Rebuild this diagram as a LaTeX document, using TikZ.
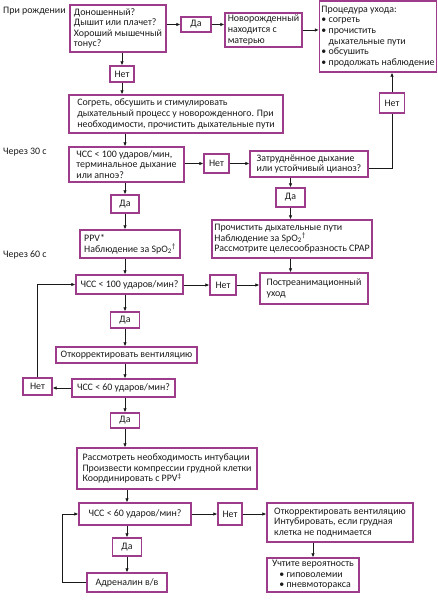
\documentclass[tikz,border=0pt]{standalone}
\usepackage{fontspec}
\setmainfont{Carlito}
\usepackage{tikz}
\usetikzlibrary{arrows.meta,positioning,calc}
\definecolor{plum}{HTML}{9E3C8C}
\definecolor{ink}{HTML}{1A1A1A}

\begin{document}
\begin{tikzpicture}[x=1pt,y=-1pt,
  box/.style={draw=plum,line width=1.4pt,fill=white,text=ink,align=left,inner sep=2pt,font=\fontsize{9.9}{10.6}\selectfont},
  tag/.style={box,align=center,inner sep=1pt},
  note/.style={text=ink,font=\fontsize{9.9}{10.6}\selectfont,inner sep=0pt},
  flow/.style={-{Latex[length=4pt,width=3.6pt]},line width=0.9pt,draw=ink},
  wire/.style={line width=0.9pt,draw=ink}]
\useasboundingbox (0,0) rectangle (438,604);

% time marks
\node[note,anchor=west] (tbirth) at (3,11) {При рождении};
\node[note,anchor=west] (t30) at (3,152) {Через 30 с};
\node[note,anchor=west] (t60) at (3,255) {Через 60 с};

% top row
\node[box,minimum width=96,minimum height=47] (born) at (118,28.5) {Доношенный?\\Дышит или плачет?\\Хороший мышечный\\тонус?};
\node[tag,minimum width=30,minimum height=15] (yes1) at (196,24.5) {Да};
\node[box,minimum width=77,minimum height=34] (mom) at (263.5,30) {Новорожденный\\находится с\\матерью};
\node[box,minimum width=117,minimum height=71] (care) at (378,36.5) {Процедура ухода:\\• согреть\\• прочистить\\\hphantom{• }дыхательные пути\\• обсушить\\• продолжать наблюдение};
\node[tag,minimum width=24,minimum height=16] (no1) at (122,74) {Нет};

% first 30 s
\node[box,minimum width=214,minimum height=38] (warm) at (176,114) {Согреть, обсушить и стимулировать\\дыхательный процесс у новорожденного. При\\необходимости, прочистить дыхательные пути};
\node[tag,minimum width=25,minimum height=20] (no2) at (392,103) {Нет};
\node[box,minimum width=115,minimum height=35] (hr1) at (126.5,164.5) {ЧСС < 100 ударов/мин,\\терминальное дыхание\\или апноэ?};
\node[tag,minimum width=25,minimum height=19] (no3) at (216.5,163.5) {Нет};
\node[box,minimum width=118,minimum height=26] (hard) at (309,164) {Затруднённое дыхание\\или устойчивый цианоз?};
\node[tag,minimum width=28,minimum height=18] (yes2) at (125,204) {Да};
\node[tag,minimum width=29,minimum height=19] (yes3) at (290.5,197.5) {Да};

% 60 s
\node[box,minimum width=100,minimum height=28] (ppv) at (130,244) {PPV*\\Наблюдение за SpO\textsubscript{2}\textsuperscript{\dag}};
\node[box,minimum width=160,minimum height=38] (clear) at (292,239) {Прочистить дыхательные пути\\Наблюдение за SpO\textsubscript{2}\textsuperscript{\dag}\\Рассмотрите целесообразность CPAP};
\node[box,minimum width=107,minimum height=19] (hr2) at (129.5,284.5) {ЧСС < 100 ударов/мин?};
\node[tag,minimum width=26,minimum height=20] (no4) at (223,285) {Нет};
\node[box,minimum width=108,minimum height=31] (post) at (314,288.5) {Постреанимационный\\уход};
\node[tag,minimum width=29,minimum height=16] (yes4) at (125,320) {Да};
\node[box,minimum width=141,minimum height=16] (vent) at (126.5,355) {Откорректировать вентиляцию};
\node[box,minimum width=103,minimum height=18] (hr3) at (123.5,388) {ЧСС < 60 ударов/мин?};
\node[tag,minimum width=29,minimum height=17] (no5) at (37.5,386.5) {Нет};
\node[tag,minimum width=29,minimum height=15] (yes5) at (125,420.5) {Да};

% compressions
\node[box,minimum width=180,minimum height=41] (intub) at (167,468.5) {Рассмотреть необходимость интубации\\Произвести компрессии грудной клетки\\Координировать с PPV\textsuperscript{\ddag}};
\node[box,minimum width=112,minimum height=22] (hr4) at (135,514) {ЧСС < 60 ударов/мин?};
\node[tag,minimum width=24,minimum height=22] (no6) at (230,514) {Нет};
\node[box,minimum width=146,minimum height=39] (fix) at (340,522.5) {Откорректировать вентиляцию\\Интубировать, если грудная\\клетка не поднимается};
\node[tag,minimum width=29,minimum height=18] (yes6) at (127,547) {Да};
\node[box,minimum width=80,minimum height=19] (adr) at (127,582.5) {Адреналин в/в};
\node[box,minimum width=92,minimum height=34] (think) at (313,575) {Учтите вероятность\\\hphantom{•} • гиповолемии\\\hphantom{•} • пневмоторакса};
\coordinate (back) at (62,583);

% arrows
\draw[flow] (born.east |- yes1.west) -- (yes1.west);
\draw[flow] (yes1.east) -- (yes1.east -| mom.west);
\draw[flow] (mom.east) -- (mom.east -| care.west);
\draw[flow] (born.south -| no1) -- (no1.north);
\draw[flow] (no1.south) -- (no1.south |- warm.north);
\draw[flow] (warm.south -| yes2) -- (yes2 |- hr1.north);
\draw[flow] (hr1.east |- no3.west) -- (no3.west);
\draw[flow] (no3.east) -- (no3.east -| hard.west);
\draw[wire] ([yshift=-4pt]hard.east) -| (no2.south);
\draw[flow] (no2.north) -- (no2.north |- care.south);
\draw[flow] (hard.south -| yes3) -- (yes3.north);
\draw[flow] (yes3.south) -- (yes3.south |- clear.north);
\draw[flow] (hr1.south -| yes2) -- (yes2.north);
\draw[flow] (yes2.south) -- (yes2.south |- ppv.north);
\draw[flow] (ppv.south -| yes2) -- (yes2 |- hr2.north);
\draw[flow] (clear.south -| yes3) -- (yes3 |- post.north);
\draw[flow] (hr2.east |- no4.west) -- (no4.west);
\draw[flow] (no4.east) -- (no4.east -| post.west);
\draw[flow] (hr2.south -| yes4) -- (yes4.north);
\draw[flow] (yes4.south) -- (yes4.south |- vent.north);
\draw[flow] (vent.south -| yes4) -- (yes4 |- hr3.north);
\draw[flow] (hr3.west) -- (hr3.west -| no5.east);
\draw[flow] (no5.north) |- (hr2.west);
\draw[flow] (hr3.south -| yes5) -- (yes5.north);
\draw[flow] (yes5.south) -- (yes5.south |- intub.north);
\draw[flow] (intub.south -| yes6) -- (yes6 |- hr4.north);
\draw[flow] (hr4.east) -- (no6.west);
\draw[flow] (no6.east) -- (no6.east -| fix.west);
\draw[flow] (fix.south -| think) -- (think.north);
\draw[flow] (hr4.south -| yes6) -- (yes6.north);
\draw[flow] (yes6.south) -- (yes6.south |- adr.north);
\draw[flow] (adr.west) -- (adr.west -| back) |- (hr4.west);
\end{tikzpicture}
\end{document}
